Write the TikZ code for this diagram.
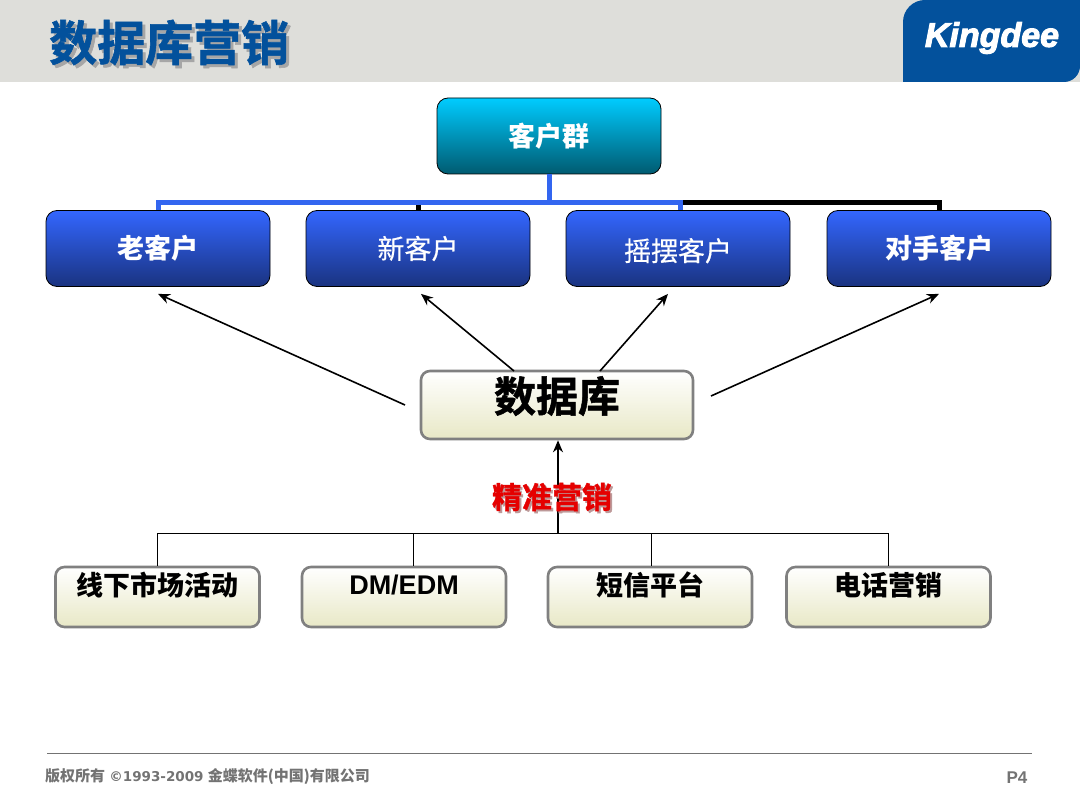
\documentclass[tikz,border=0pt]{standalone}
\usepackage{fontspec}
\setmainfont{Liberation Sans}
\newfontfamily\cjk{Noto Sans CJK SC}
\newfontfamily\cjkmed{Noto Sans CJK SC}[FakeBold=0.5]
\newfontfamily\cjkheavy{Noto Sans CJK SC}[UprightFont=* Bold,FakeBold=1.2]
\newfontfamily\logofont{Liberation Sans}[UprightFont=* Bold Italic,FakeBold=3]
\newfontfamily\verd{DejaVu Sans}
\usetikzlibrary{arrows.meta}
\definecolor{headgray}{HTML}{DEDEDA}
\definecolor{kdblue}{HTML}{03519C}
\newcommand{\softcopy}[4]{\leavevmode\rlap{\kern#1pt\raisebox{-#1pt}{\textcolor{#2}{#4}}}\textcolor{#3}{#4}}
\tikzset{
  topbox/.style={draw=black,line width=0.8pt,rounded corners=11pt,minimum width=224pt,minimum height=76pt,
    top color=#1,inner sep=0pt,text=white,font=\cjk\fontsize{27}{27}\selectfont},
  custbox/.style={topbox=custtop,bottom color=custbot},
  grpbox/.style={topbox=grptop,bottom color=grpbot,minimum height=76pt},
  srcbox/.style={draw=boxgray,line width=2.6pt,rounded corners=9pt,top color=white,bottom color=boxbot,
    inner sep=0pt,text=black,font=\cjk\bfseries\fontsize{27}{27}\selectfont,minimum width=204pt,minimum height=60pt,
    text height=16pt,text depth=20pt},
  fanarrow/.style={draw=black,line width=1.6pt,-{Stealth[length=12pt,width=10pt]}},
  thinline/.style={draw=black,line width=1pt},
  busblack/.style={draw=black,line width=5pt},
  busblue/.style={draw=busb,line width=5pt}
}
\definecolor{grptop}{HTML}{00CCFF}
\definecolor{grpbot}{HTML}{005A70}
\definecolor{custtop}{HTML}{3366FF}
\definecolor{custbot}{HTML}{1A3380}
\definecolor{busb}{HTML}{3366F0}
\definecolor{boxgray}{HTML}{808080}
\definecolor{boxbot}{HTML}{E8E8C6}
\begin{document}
\begin{tikzpicture}[x=1pt,y=-1pt]
        \useasboundingbox (0,0) rectangle (1080,810);
        % header
        \fill[headgray] (0,0) rectangle (1080,82);
        \fill[kdblue] (903,82) -- (903,22) arc[start angle=180,end angle=270,radius=22] -- (1080,0) -- (1080,66) arc[start angle=0,end angle=90,radius=16] -- cycle;
        \node[text=white,font=\logofont\fontsize{34}{34}\selectfont,inner sep=0pt] (logo) at (992,38) {Kingdee};
        \node[font=\cjkheavy\fontsize{48}{48}\selectfont,inner sep=0pt,anchor=west] (title) at (49,44) {\softcopy{3}{black!35}{kdblue}{数据库营销}};

        % customers
        \node[grpbox] (cgroup) at (549,136) {\bfseries 客户群};
        \node[custbox] (oldc) at (158,248.5) {\bfseries 老客户};
        \node[custbox] (newc) at (418,248.5) {\cjkmed 新客户};
        \node[custbox,text height=30pt,text depth=5pt] (swingc) at (678,248.5) {\cjkmed 摇摆客户};
        \node[custbox] (rivalc) at (939,248.5) {\bfseries 对手客户};

        \coordinate (topbus) at (549,203);
        \draw[busblack] (topbus) -| (newc.north);
        \draw[busblack] (topbus) -| (rivalc.north);
        \draw[busblue] (cgroup.south) -- (topbus) -| (oldc.north);
        \draw[busblue] (topbus) -| ([xshift=2pt]swingc.north);

        % database
        \node[srcbox,minimum width=272pt,minimum height=68pt,text height=30pt,text depth=16pt,font=\cjkheavy\fontsize{42}{42}\selectfont] (dbase) at (557,405) {数据库};
        \coordinate (fana) at (405,405);
        \coordinate (fanb) at (514,371);
        \coordinate (fanc) at (600,371);
        \coordinate (fand) at (711,396);
        \draw[fanarrow] (fana) -- ([yshift=-7pt]oldc.south);
        \draw[fanarrow] (fanb) -- ([xshift=3pt,yshift=-7pt]newc.south);
        \draw[fanarrow] (fanc) -- ([xshift=-10pt,yshift=-7pt]swingc.south);
        \draw[fanarrow] (fand) -- ([yshift=-7pt]rivalc.south);

        % sources
        \node[srcbox] (offline) at (157.5,597) {线下市场活动};
        \node[srcbox,font=\bfseries\fontsize{27}{27}\selectfont,text height=16pt,text depth=21pt] (dmedm) at (404,597) {DM/EDM};
        \node[srcbox] (sms) at (650,597) {短信平台};
        \node[srcbox] (phone) at (888.5,597) {电话营销};

        \coordinate (lowbus) at (558,533);
        \draw[thinline] (lowbus) -| (offline.north);
        \draw[thinline] (lowbus) -| ([xshift=9pt]dmedm.north);
        \draw[thinline] (lowbus) -| ([xshift=1pt]sms.north);
        \draw[thinline] (lowbus) -| (phone.north);
        \draw[fanarrow] (lowbus) -- (lowbus |- dbase.south);
        \node[font=\cjkheavy\fontsize{30}{30}\selectfont,inner sep=0pt] (precise) at (552,498) {\softcopy{2}{red!35!black!40}{red!90!black}{精准营销}};

        % footer
        \coordinate (footl) at (47,753);
        \coordinate (footr) at (1032,753);
        \draw[black!55,line width=0.9pt] (footl) -- (footr);
        \node[anchor=west,inner sep=0pt,text=black!55,font=\bfseries\fontsize{15}{15}\selectfont] (copyr) at (45,777) {{\cjk 版权所有} {\verd\fontsize{13.5}{14}\selectfont ©1993-2009} {\cjk 金蝶软件(中国)有限公司}};
        \node[inner sep=0pt,text=black!55,font=\bfseries\fontsize{17}{17}\selectfont] (pagenum) at (1017,778) {P4};
\end{tikzpicture}
\end{document}
